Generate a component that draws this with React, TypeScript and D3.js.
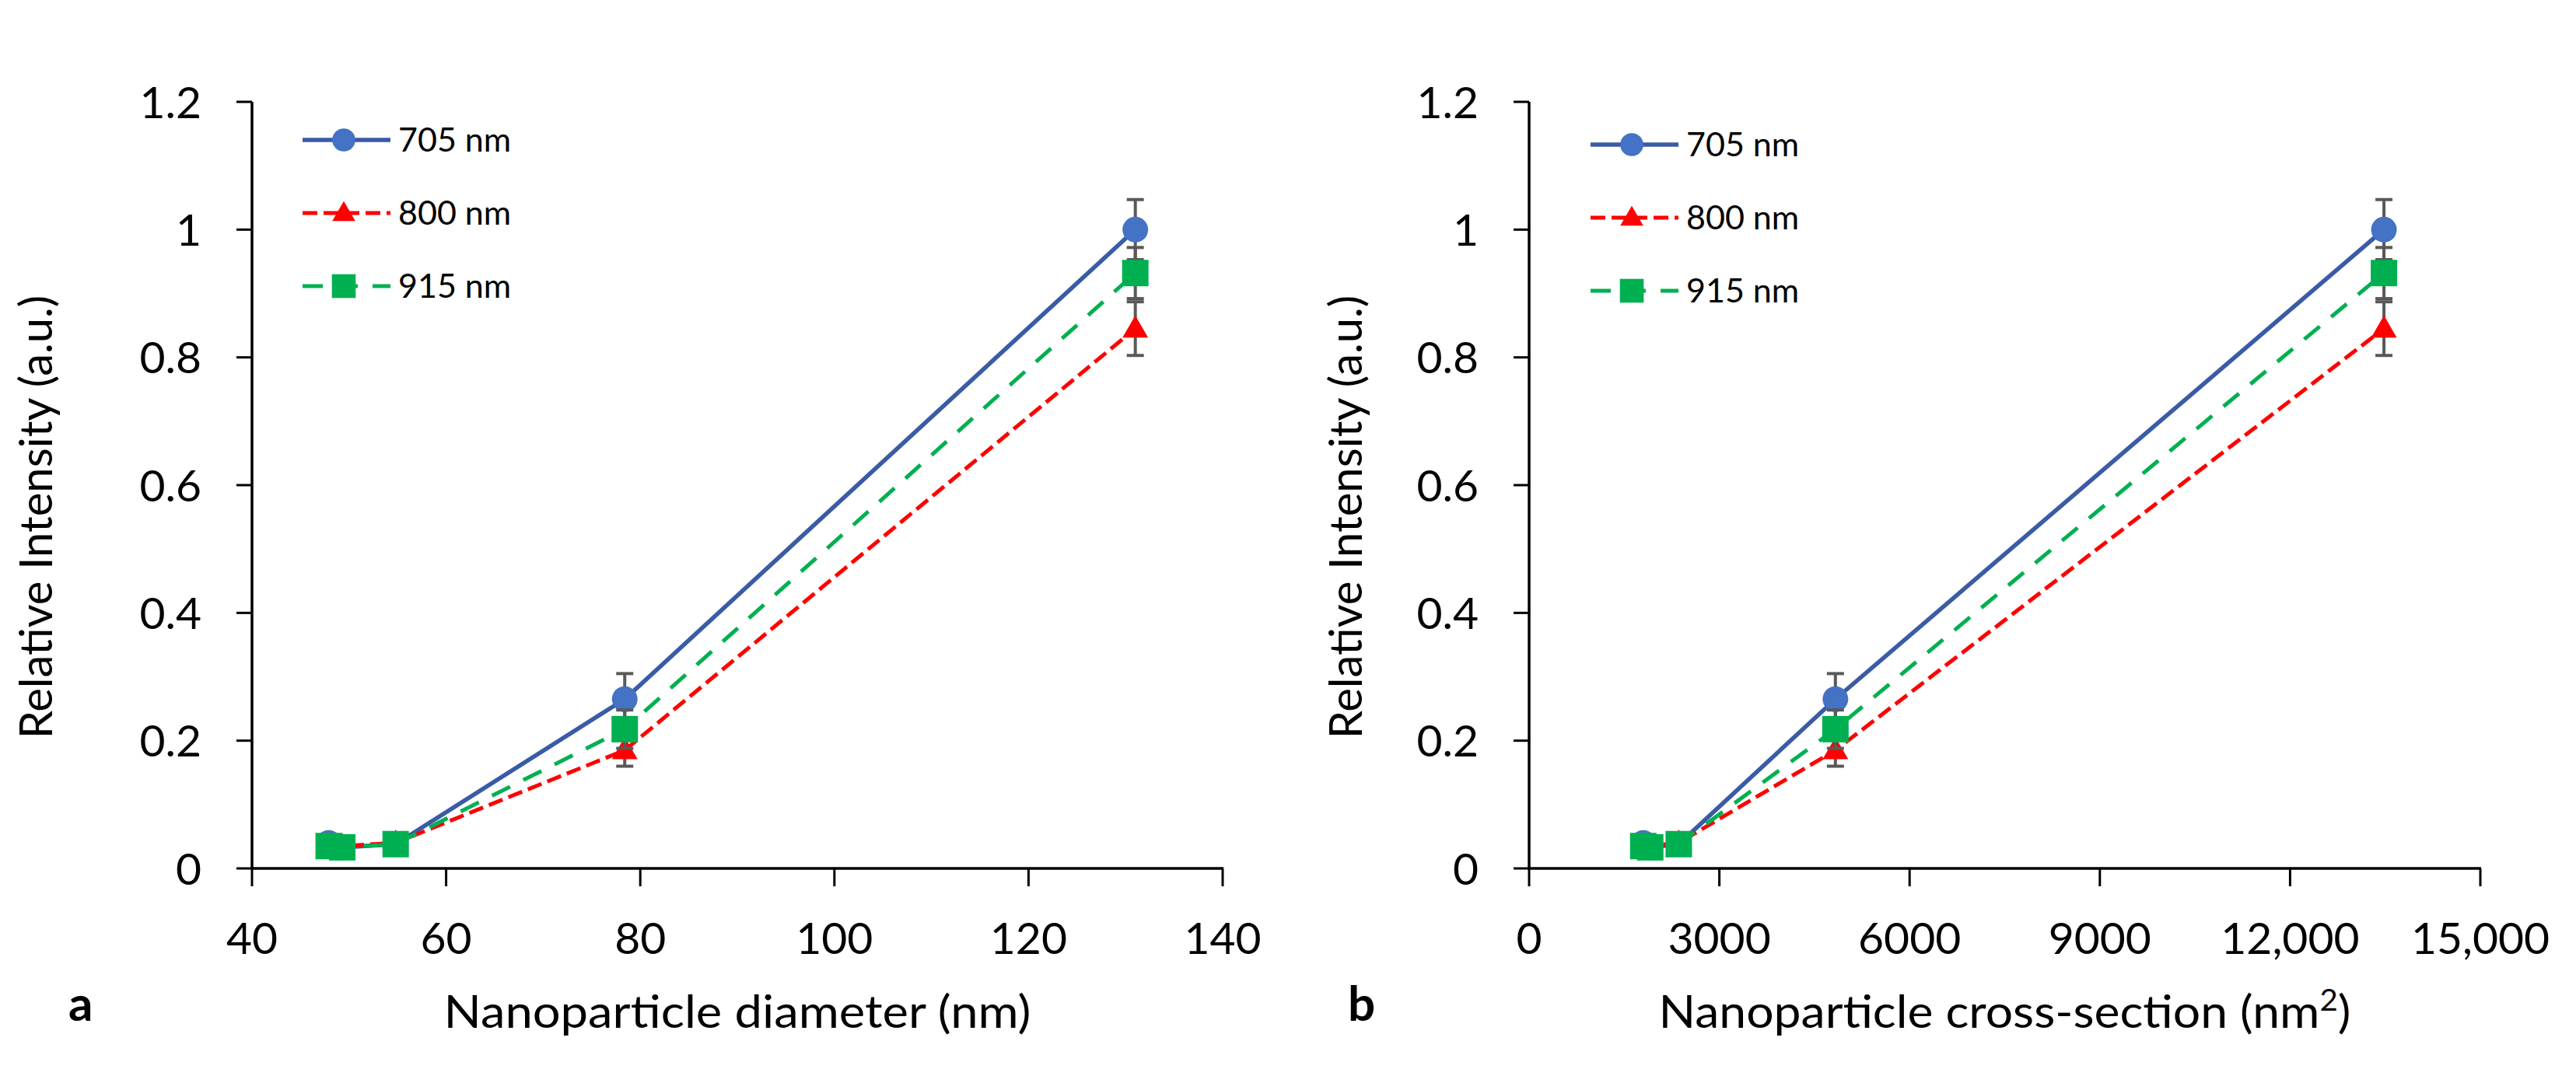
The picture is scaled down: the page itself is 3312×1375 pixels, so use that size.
import React, { useEffect } from "react";
import * as d3 from "d3";

// ---- data ----
const diameters = [47.9, 49.3, 54.8, 78.4, 131.0];
const crossSections = [1800, 1910, 2360, 4830, 13480];

const seriesNames = ["705 nm", "800 nm", "915 nm"];
const int705 = [0.04, 0.033, 0.038, 0.265, 1.0];
const int800 = [0.03, 0.035, 0.04, 0.185, 0.845];
const int915 = [0.035, 0.033, 0.038, 0.218, 0.932];
const err705 = [0.005, 0.005, 0.004, 0.04, 0.047];
const err800 = [0.004, 0.004, 0.004, 0.025, 0.042];
const err915 = [0.004, 0.004, 0.004, 0.03, 0.04];

const yTicks = [0, 0.2, 0.4, 0.6, 0.8, 1, 1.2];
const yTickLabels = ["0", "0.2", "0.4", "0.6", "0.8", "1", "1.2"];
const xTicksA = [40, 60, 80, 100, 120, 140];
const xTickLabelsA = ["40", "60", "80", "100", "120", "140"];
const xTicksB = [0, 3000, 6000, 9000, 12000, 15000];
const xTickLabelsB = ["0", "3000", "6000", "9000", "12,000", "15,000"];

const FONT = "Lato, 'Open Sans', 'DejaVu Sans', sans-serif";

const styles = [
  { line: "#3A5BA5", marker: "#4472C4", dash: "none", width: 5.5, shape: "circle" },
  { line: "#FF0000", marker: "#FF0000", dash: "19 8", width: 5, shape: "triangle" },
  { line: "#00B050", marker: "#00B050", dash: "26 19", width: 5, shape: "square" },
];

const seriesValues = [int705, int800, int915];
const seriesErrors = [err705, err800, err915];

function Marker({ shape, x, y, color, s = 1 }) {
  if (shape === "circle") return <circle cx={x} cy={y} r={16.5 * s} fill={color} />;
  if (shape === "square") {
    const h = 17 * s;
    return <rect x={x - h} y={y - h} width={2 * h} height={2 * h} fill={color} />;
  }
  const path = d3.symbol(d3.symbolTriangle, 470 * s * s)();
  return <path d={path} transform={`translate(${x},${y + 2 * s})`} fill={color} />;
}

function Panel({ xs, domain, range, xTicks, xTickLabels, title, titleLen, letter, letterX, yTitleX, legendX, legendY }) {
  const x = d3.scaleLinear().domain(domain).range(range);
  const y = d3.scaleLinear().domain([0, 1.2]).range([1117, 131]);
  const x0 = range[0];
  const x1 = range[1];
  const line = d3
    .line<number>()
    .x((_, i) => x(xs[i]))
    .y((v) => y(v));
  const cx = (x0 + x1) / 2;
  return (
    <g>
      {/* axes */}
      <line x1={x0} x2={x0} y1={y(1.2)} y2={y(0) + 1.5} stroke="#000" strokeWidth={3.5} />
      <line x1={x0 - 1.5} x2={x1 + 1} y1={y(0)} y2={y(0)} stroke="#000" strokeWidth={3.5} />
      {yTicks.map((t, i) => (
        <g key={"y" + i}>
          <line x1={x0 - 20} x2={x0} y1={y(t)} y2={y(t)} stroke="#000" strokeWidth={3} />
          <text x={x0 - 65} y={y(t)} dy="0.36em" textAnchor="end" fontSize={57} fontFamily={FONT} fill="#000">
            {yTickLabels[i]}
          </text>
        </g>
      ))}
      {xTicks.map((t, i) => (
        <g key={"x" + i}>
          <line x1={x(t)} x2={x(t)} y1={y(0)} y2={y(0) + 23} stroke="#000" strokeWidth={3} />
          <text x={x(t)} y={1227} textAnchor="middle" fontSize={57} fontFamily={FONT} fill="#000">
            {xTickLabels[i]}
          </text>
        </g>
      ))}
      <text
        x={cx}
        y={1322}
        textAnchor="middle"
        fontSize={59}
        fontFamily={FONT}
        fill="#000"
        textLength={titleLen}
        lengthAdjust="spacingAndGlyphs"
      >
        {title}
      </text>
      <text
        transform={`translate(${yTitleX},665) rotate(-90)`}
        textAnchor="middle"
        dy="0.36em"
        fontSize={58}
        fontFamily={FONT}
        fill="#000"
      >
        Relative Intensity (a.u.)
      </text>
      <text x={letterX} y={1313} fontSize={62} fontWeight="bold" fontFamily={FONT} fill="#000">
        {letter}
      </text>

      {/* series */}
      {seriesValues.map((vals, si) => {
        const st = styles[si];
        return (
          <g key={"s" + si}>
            <path
              d={line(vals) || ""}
              fill="none"
              stroke={st.line}
              strokeWidth={st.width}
              strokeDasharray={st.dash}
            />
            {vals.map((v, i) => {
              const e = seriesErrors[si][i];
              const px = x(xs[i]);
              return (
                <g key={"e" + i} stroke="#595959" strokeWidth={4}>
                  <line x1={px} x2={px} y1={y(v - e)} y2={y(v + e)} />
                  <line x1={px - 11} x2={px + 11} y1={y(v + e)} y2={y(v + e)} />
                  <line x1={px - 11} x2={px + 11} y1={y(v - e)} y2={y(v - e)} />
                </g>
              );
            })}
            {vals.map((v, i) => (
              <Marker key={"m" + i} shape={st.shape} x={x(xs[i])} y={y(v)} color={st.marker} />
            ))}
          </g>
        );
      })}

      {/* legend */}
      {seriesNames.map((n, si) => {
        const st = styles[si];
        const ly = legendY + si * 94;
        return (
          <g key={"l" + si}>
            <line
              x1={legendX}
              x2={legendX + 113}
              y1={ly}
              y2={ly}
              stroke={st.line}
              strokeWidth={st.width}
              strokeDasharray={st.dash}
            />
            <Marker shape={st.shape} x={legendX + 53} y={ly} color={st.marker} s={0.9} />
            <text x={legendX + 123} y={ly} dy="0.36em" fontSize={43} fontFamily={FONT} fill="#000">
              {n}
            </text>
          </g>
        );
      })}
    </g>
  );
}

export default function App() {
  useEffect(() => {
    document.body.style.margin = "0";
  }, []);
  return (
    <svg width={3312} height={1375} viewBox="0 0 3312 1375" style={{ display: "block", background: "#fff" }}>
      <rect x={0} y={0} width={3312} height={1375} fill="#fff" />
      <Panel
        xs={diameters}
        domain={[40, 140]}
        range={[324, 1572]}
        xTicks={xTicksA}
        xTickLabels={xTickLabelsA}
        title="Nanoparticle diameter (nm)"
        titleLen={755}
        letter="a"
        letterX={88}
        yTitleX={46}
        legendX={389}
        legendY={180}
      />
      <Panel
        xs={crossSections}
        domain={[0, 15000]}
        range={[1966, 3189]}
        xTicks={xTicksB}
        xTickLabels={xTickLabelsB}
        title={
          <>
            Nanoparticle cross-section (nm
            <tspan fontSize={38} dy={-22}>2</tspan>
            <tspan dy={22}>)</tspan>
          </>
        }
        titleLen={890}
        letter="b"
        letterX={1733}
        yTitleX={1730}
        legendX={2045}
        legendY={186}
      />
    </svg>
  );
}
